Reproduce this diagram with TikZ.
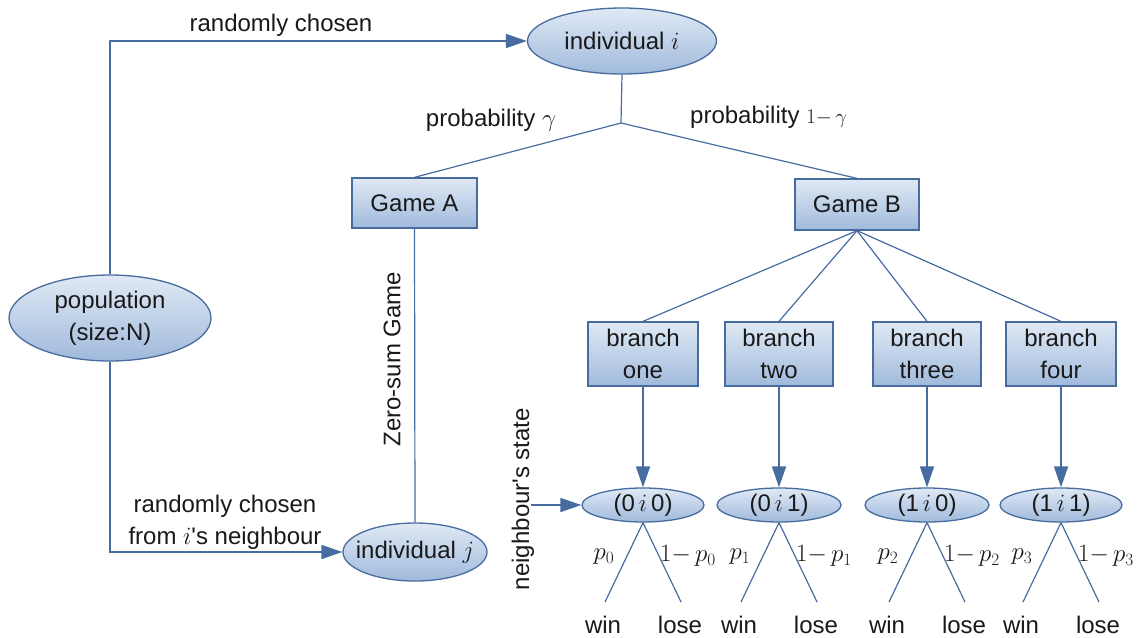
\documentclass[tikz,border=0pt]{standalone}
\usepackage{fontspec}
\setmainfont{Liberation Sans}
\usetikzlibrary{shapes.geometric,arrows.meta}
\definecolor{edge}{RGB}{70,108,160}
\definecolor{ftop}{RGB}{224,233,245}
\definecolor{fbot}{RGB}{160,186,220}
\definecolor{bord}{RGB}{72,108,158}
\definecolor{ink}{RGB}{25,25,25}
\newcommand{\oneminus}[1]{1{-}\,#1}
\begin{document}
\begin{tikzpicture}[x=1pt,y=-1pt,
  font=\fontsize{24}{32}\selectfont, text=ink,
  box/.style={draw=bord, line width=1.3pt, top color=ftop, bottom color=fbot, align=center, inner sep=0pt},
  ell/.style={box, ellipse},
  conn/.style={draw=edge, line width=1.2pt},
  arr/.style={draw=edge, line width=1.7pt, -{Triangle[length=21pt,width=14pt]}},
  lbl/.style={inner sep=0pt}]
\useasboundingbox (0,0) rectangle (1137,637);

% main nodes
\node[ell, minimum width=189, minimum height=66] (ii) at (622,41) {\makebox[0pt]{individual $i$}};
\node[ell, minimum width=202, minimum height=86] (pop) at (110,318) {population\\(size:N)};
\node[ell, minimum width=144, minimum height=58] (ij) at (415,552) {\makebox[0pt]{individual $j$}};
\node[box, minimum width=125, minimum height=50] (gA) at (414.5,203) {Game A};
\node[box, minimum width=124, minimum height=51] (gB) at (857,204.5) {Game B};

% branches
\node[box, minimum width=110, minimum height=64] (b1) at (643,354) {branch\\one};
\node[box, minimum width=108, minimum height=64] (b2) at (779,354) {branch\\two};
\node[box, minimum width=108, minimum height=64] (b3) at (927,354) {branch\\three};
\node[box, minimum width=110, minimum height=64] (b4) at (1061,354) {branch\\four};

% states
\node[ell, minimum width=122, minimum height=34] (s1) at (643,505) {\makebox[0pt]{(0\,$i$\,0)}};
\node[ell, minimum width=124, minimum height=34] (s2) at (779,505) {\makebox[0pt]{(0\,$i$\,1)}};
\node[ell, minimum width=124, minimum height=34] (s3) at (927,505) {\makebox[0pt]{(1\,$i$\,0)}};
\node[ell, minimum width=122, minimum height=34] (s4) at (1061,505) {\makebox[0pt]{(1\,$i$\,1)}};

% top part connectors
\coordinate (jn) at (621,123);
\draw[conn] (ii.south) -- (jn);
\draw[conn] (jn) -- (gA.north);
\draw[conn] (jn) -- (gB.north);
\node[lbl] (pg) at (491,120) {probability $\gamma$};
\node[lbl, anchor=west] (pg1) at (690,117) {probability {\fontsize{20}{24}\selectfont$\oneminus{\gamma}$}};

\draw[arr] (pop.north) |- (ii.west);
\draw[arr] (pop.south) |- (ij.west);
\node[lbl] (rc1) at (281,25) {randomly chosen};
\node[lbl, align=center] (rc2) at (225,522) {randomly chosen\\from $i$\textquotesingle s neighbour};

\draw[conn] (gA.south) -- (ij.north);
\node[lbl, rotate=90] (zs) at (392,359) {Zero-sum Game};

\draw[conn] (gB.south) -- (b1.north);
\draw[conn] (gB.south) -- (b2.north);
\draw[conn] (gB.south) -- (b3.north);
\draw[conn] (gB.south) -- (b4.north);

\draw[arr] (b1.south) -- (s1.north);
\draw[arr] (b2.south) -- (s2.north);
\draw[arr] (b3.south) -- (s3.north);
\draw[arr] (b4.south) -- (s4.north);

\node[lbl, rotate=90] (nst) at (523,499) {neighbour\textquotesingle s state};
\coordinate (ns) at (531,505);
\draw[arr] (ns) -- (s1.west);

% outcomes
\foreach \n/\x/\p in {1/643/0, 2/779/1, 3/927/2, 4/1061/3} {
  \coordinate (w\n) at (\x-38,602);
  \coordinate (l\n) at (\x+38,602);
  \draw[conn] (s\n.south) -- (w\n);
  \draw[conn] (s\n.south) -- (l\n);
  \node[lbl] (tw\n) at (\x-40,625) {win};
  \node[lbl] (tl\n) at (\x+37,625) {lose};
  \node[lbl] (pp\n) at (\x-39,557) {$p_{\p}$};
  \node[lbl] (pq\n) at (\x+45,556) {$\oneminus{p_{\p}}$};
}
\end{tikzpicture}
\end{document}
